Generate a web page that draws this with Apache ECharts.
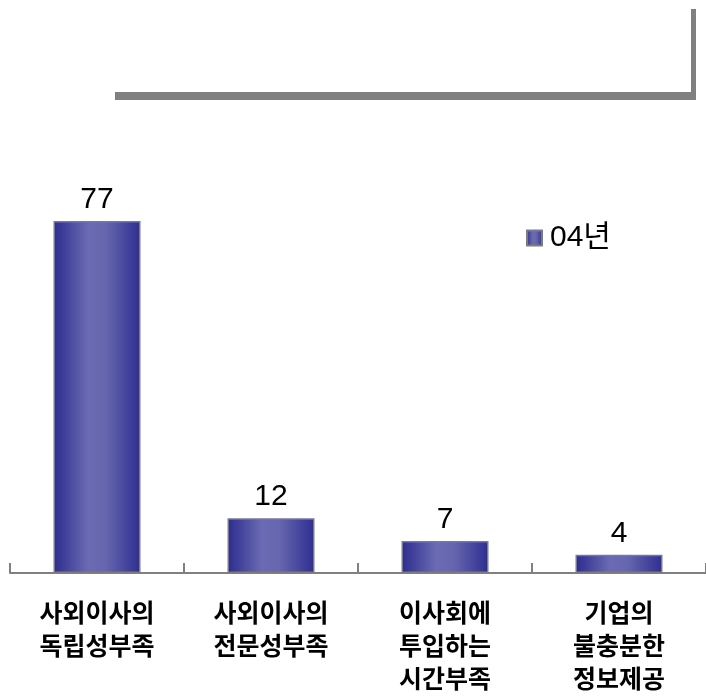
<!DOCTYPE html>
<html>
<head>
<meta charset="utf-8">
<script src="https://cdn.jsdelivr.net/npm/echarts@6/dist/echarts.min.js"></script>
<style>
  html, body { margin: 0; padding: 0; background: #fff; }
  #chart { width: 706px; height: 700px; }
</style>
</head>
<body>
<div id="chart"></div>
<script>
// Survey categories (x axis) and the single 2004 series
const categories = [
  '사외이사의\n독립성부족',
  '사외이사의\n전문성부족',
  '이사회에\n투입하는\n시간부족',
  '기업의\n불충분한\n정보제공'
];
const seriesName = '04년';
const values = [77, 12, 7, 4];

const chart = echarts.init(document.getElementById('chart'), null, { renderer: 'canvas' });

// cylinder-like horizontal shading of each bar
const barFill = new echarts.graphic.LinearGradient(0, 0, 1, 0, [
  { offset: 0, color: '#2c2c8e' },
  { offset: 0.4, color: '#6b6bb4' },
  { offset: 0.6, color: '#6666ae' },
  { offset: 1, color: '#2e2e92' }
]);

chart.setOption({
  animation: false,
  backgroundColor: '#ffffff',
  grid: { left: 10, right: -6, top: 116, bottom: 127, containLabel: false },
  legend: {
    left: 521,
    top: 218,
    icon: 'rect',
    itemWidth: 15,
    itemHeight: 15,
    textStyle: {
      fontFamily: '"Liberation Sans", "Noto Sans CJK KR", sans-serif',
      fontSize: 30,
      color: '#000',
      padding: [0, 0, 0, 3]
    },
    data: [seriesName]
  },
  xAxis: {
    type: 'category',
    data: categories,
    axisLine: { lineStyle: { color: '#808080', width: 2 } },
    axisTick: { show: true, inside: true, length: 10, lineStyle: { color: '#808080', width: 2 } },
    axisLabel: {
      interval: 0,
      margin: 23,
      fontFamily: '"Noto Sans CJK KR", sans-serif',
      fontWeight: 'bold',
      fontSize: 25,
      lineHeight: 33,
      color: '#000'
    }
  },
  yAxis: {
    type: 'value',
    min: 0,
    max: 100,
    show: false,
    splitLine: { show: false }
  },
  series: [{
    name: seriesName,
    type: 'bar',
    data: values,
    barWidth: '50%',
    itemStyle: {
      color: barFill,
      borderColor: '#7a7a8a',
      borderWidth: 1.5
    },
    label: {
      show: true,
      position: 'top',
      distance: 6,
      fontFamily: '"Liberation Sans", sans-serif',
      fontSize: 30,
      color: '#000'
    }
  }],
  graphic: [
    { type: 'rect', shape: { x: 115, y: 92, width: 581, height: 8 }, style: { fill: '#808080' } },
    { type: 'rect', shape: { x: 691, y: 9, width: 5, height: 91 }, style: { fill: '#808080' } }
  ]
});
</script>
</body>
</html>
